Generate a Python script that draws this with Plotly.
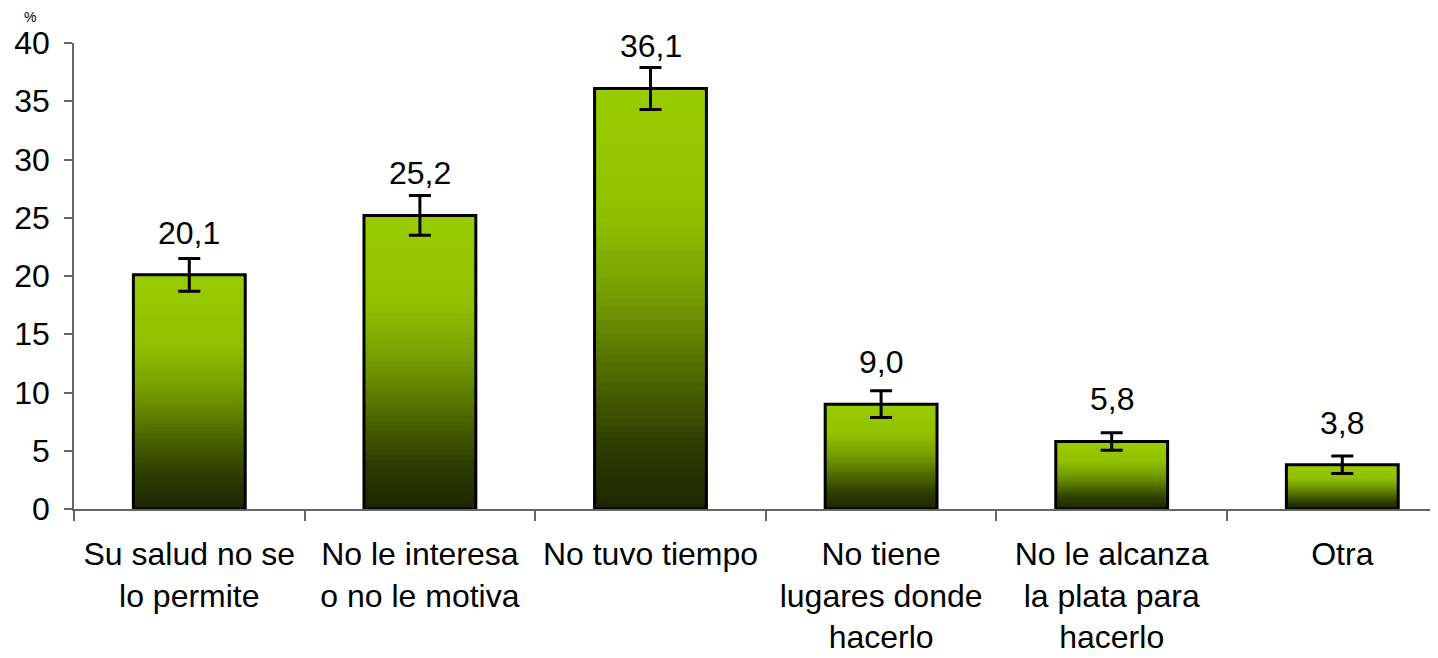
import plotly.graph_objects as go
from plotly.colors import sample_colorscale

categories = [
    "Su salud no se<br>lo permite",
    "No le interesa<br>o no le motiva",
    "No tuvo tiempo",
    "No tiene<br>lugares donde<br>hacerlo",
    "No le alcanza<br>la plata para<br>hacerlo",
    "Otra",
]
values = [20.1, 25.2, 36.1, 9.0, 5.8, 3.8]
errors = [1.4, 1.7, 1.8, 1.15, 0.75, 0.75]
y_ticks = [0, 5, 10, 15, 20, 25, 30, 35, 40]

FONT = "Liberation Sans, Arial, sans-serif"
# gradient: 0 = bottom of bar, 1 = top of bar
grad_scale = [
    [0.0, "rgb(30,38,0)"],
    [0.15, "rgb(45,60,0)"],
    [0.30, "rgb(75,100,0)"],
    [0.50, "rgb(115,155,0)"],
    [0.70, "rgb(145,192,0)"],
    [1.0, "rgb(153,204,0)"],
]
N = 60

fig = go.Figure()
# layered fills: each layer covers [0, v*(k+1)/N]; drawn from tallest to shortest
for k in range(N - 1, -1, -1):
    col = sample_colorscale(grad_scale, [(k + 0.5) / N])[0]
    fig.add_trace(go.Bar(
        x=categories,
        y=[v * (k + 1) / N for v in values],
        marker=dict(color=col, line=dict(width=0)),
        width=0.485,
        hoverinfo="skip",
        showlegend=False,
    ))

# outline + error bars
fig.add_trace(go.Bar(
    x=categories,
    y=values,
    width=0.485,
    marker=dict(color="rgba(0,0,0,0)", line=dict(color="black", width=3)),
    error_y=dict(type="data", array=errors, visible=True, color="black",
                 thickness=3, width=11),
    showlegend=False,
))

# value labels placed a fixed distance above each bar top
annotations = [
    dict(
        x=c, y=v, xref="x", yref="y",
        text=f"{v:.1f}".replace(".", ","),
        showarrow=False, xanchor="center", yanchor="middle", yshift=42,
        font=dict(size=32, color="black", family=FONT),
    )
    for c, v in zip(categories, values)
]
annotations.append(dict(
    text="%", xref="paper", yref="paper",
    x=-0.032, y=1.056, xanchor="center", yanchor="middle", showarrow=False,
    font=dict(size=14, family=FONT, color="black"),
))

# page body has an 8px margin, so the figure is sized/offset to compensate
fig.update_layout(
    width=1430,
    height=650,
    margin=dict(l=66, r=0, t=35, b=149, autoexpand=False),
    barmode="overlay",
    plot_bgcolor="white",
    paper_bgcolor="white",
    font=dict(family=FONT, size=32, color="black"),
    showlegend=False,
    xaxis=dict(
        range=[-0.5, 5.415],
        automargin=False,
        showline=True, linecolor="#666666", linewidth=1.5,
        ticks="outside", tickson="boundaries", ticklen=10, tickcolor="#666666",
        tickwidth=1.5,
        ticklabelstandoff=16,
        showgrid=False, zeroline=False,
        tickfont=dict(size=32, family=FONT),
    ),
    yaxis=dict(
        range=[0, 40],
        automargin=False,
        tickvals=y_ticks,
        showline=True, linecolor="#666666", linewidth=1.5,
        ticks="outside", ticklen=8, tickcolor="#666666", tickwidth=1.5,
        ticklabelstandoff=8,
        showgrid=False, zeroline=False,
        tickfont=dict(size=32, family=FONT),
    ),
    annotations=annotations,
)

fig.write_html("out.html")
